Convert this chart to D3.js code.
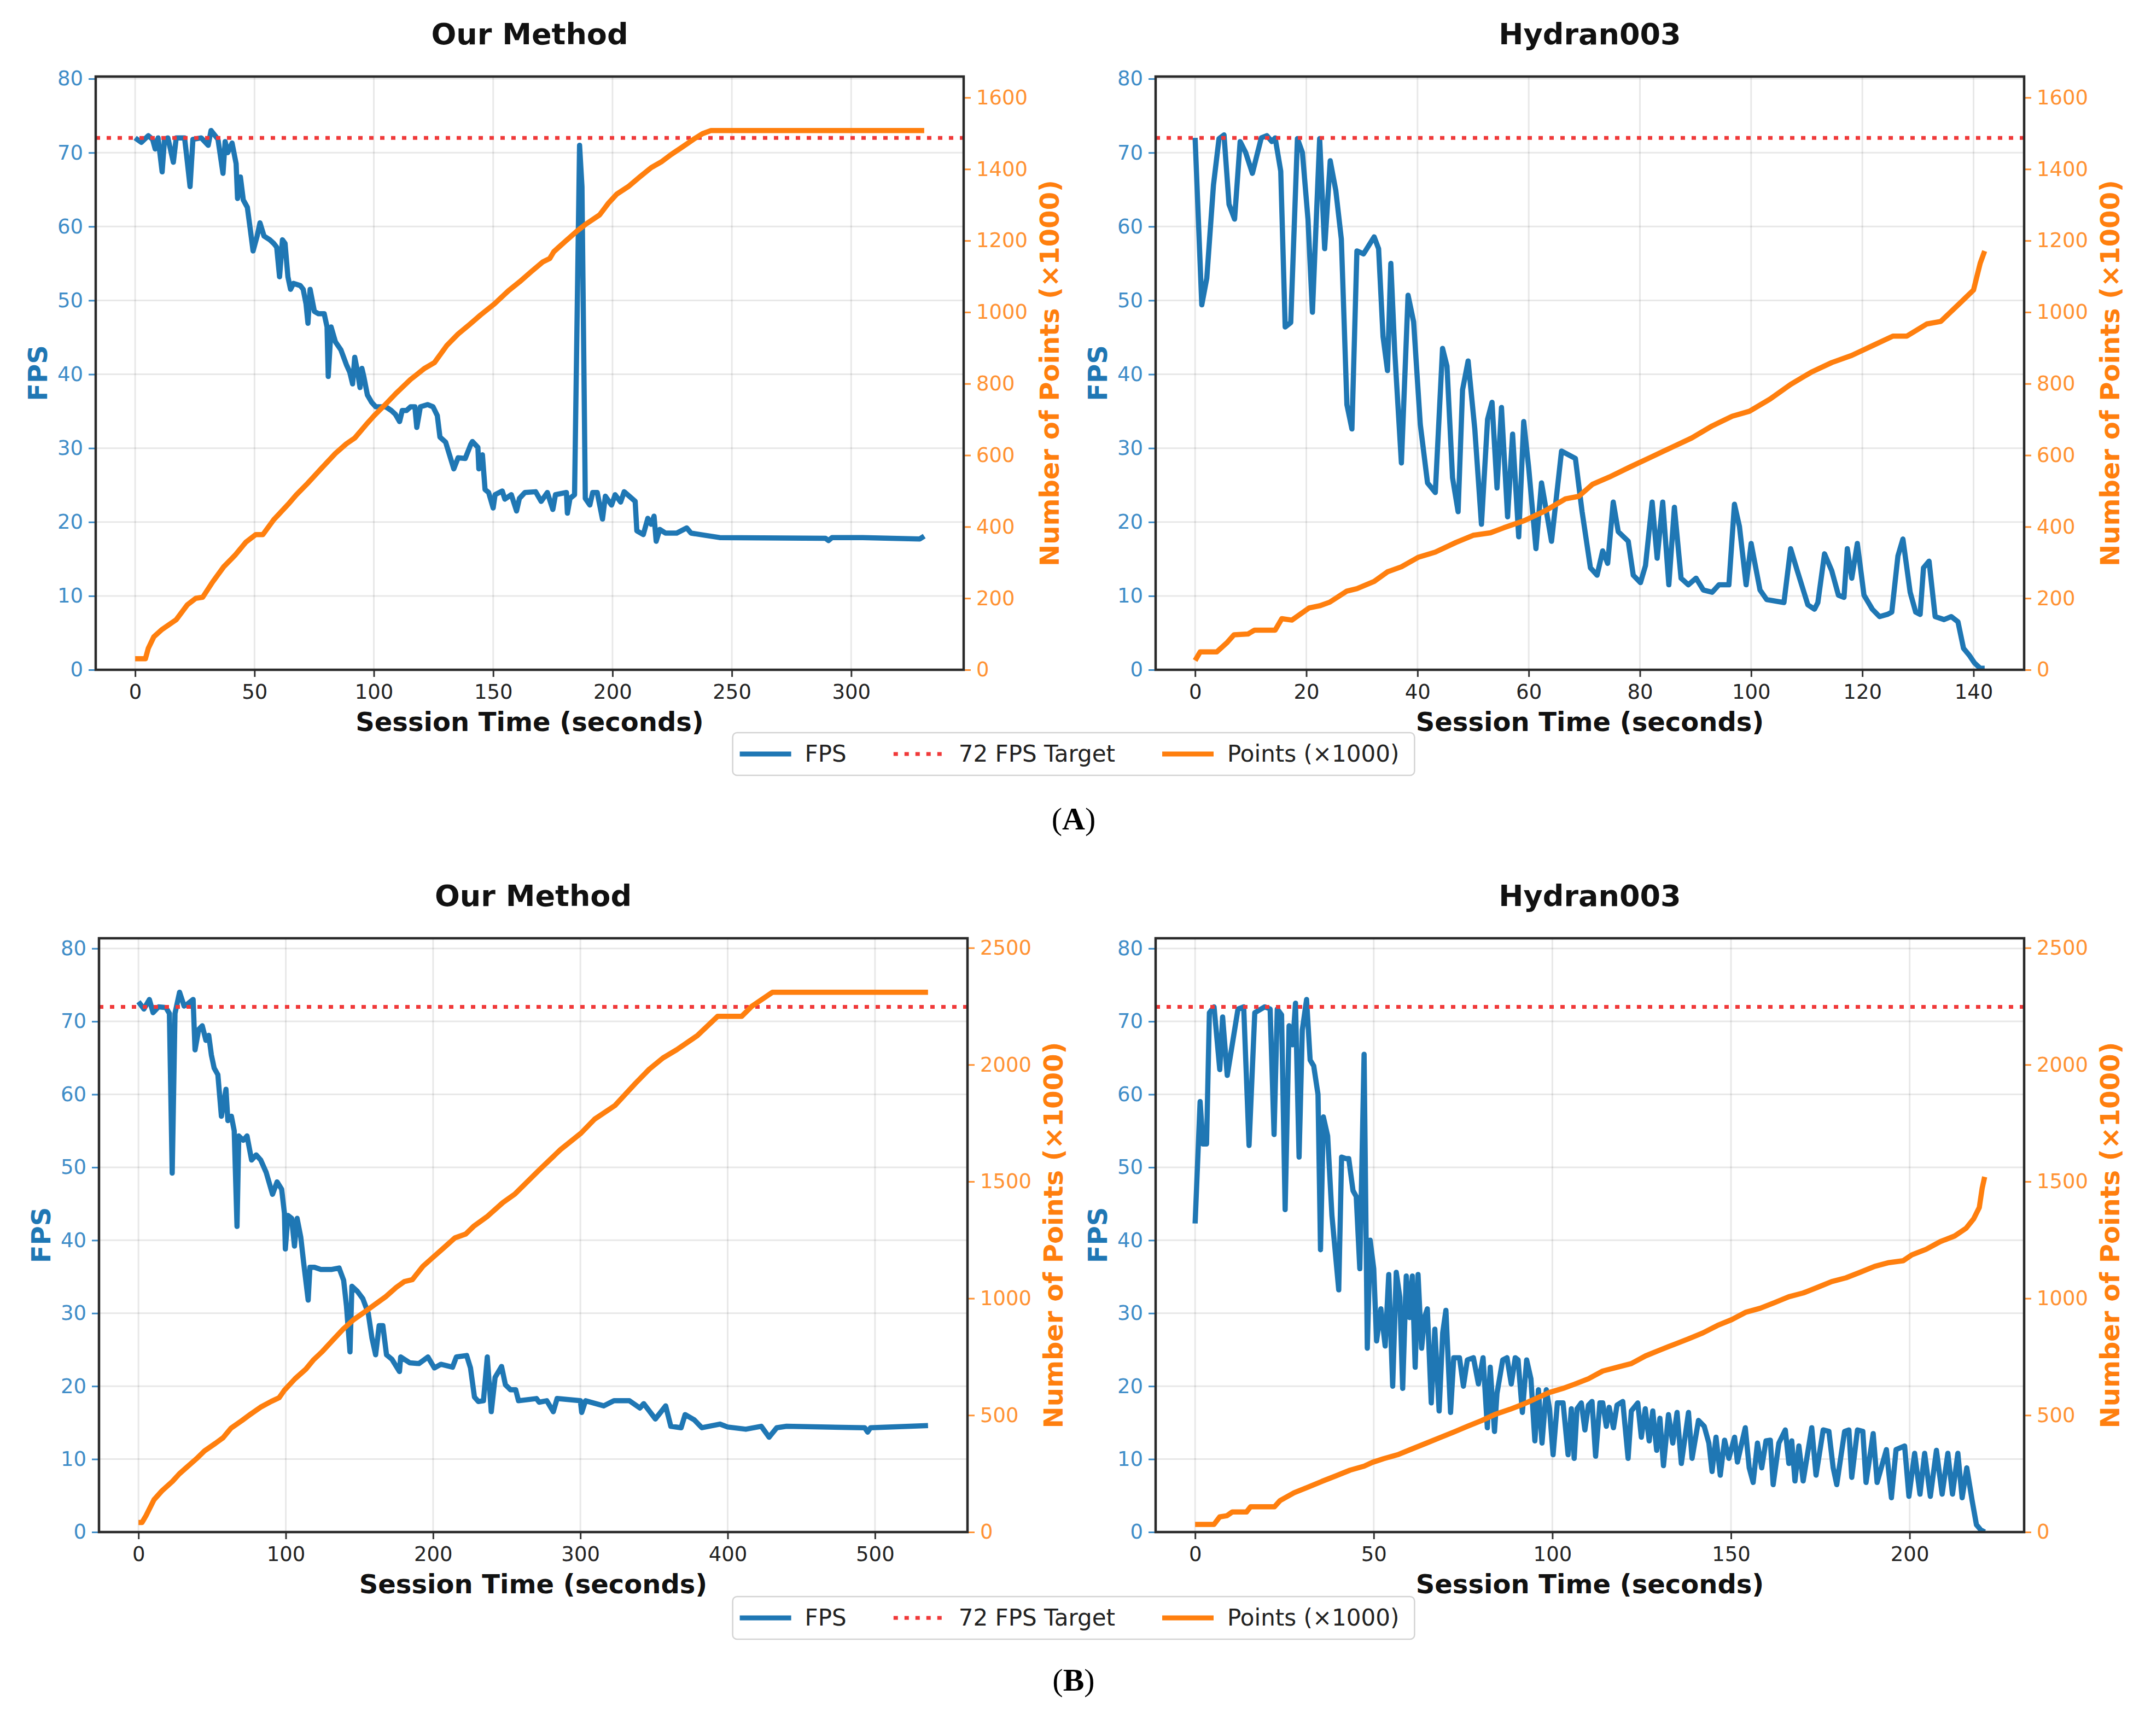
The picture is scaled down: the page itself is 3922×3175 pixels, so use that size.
<!DOCTYPE html>
<html><head><meta charset="utf-8">
<script src="https://cdnjs.cloudflare.com/ajax/libs/d3/7.8.5/d3.min.js"></script>
<style>body{margin:0;background:#fff}</style>
</head><body>
<script>
// ---------------- DATA (time in seconds, value) ----------------
const ourA_fps = [[0,72],[0.8,71.8],[2.6,71.4],[5.5,72.3],[7.3,71.8],[8.4,70.5],[9.6,72],[11.3,67.4],[12.3,71.8],[13.7,72],[16,68.7],[17.2,72],[20.7,72],[21.6,69.5],[23,65.4],[24.2,71.8],[27.7,72],[30.6,71],[31.8,73],[34.7,71.8],[36.8,67.2],[37.7,71.5],[38.8,70],[40.6,71.3],[42.3,68.5],[42.9,63.8],[44.1,66.7],[45.3,63.6],[47,62.6],[48.2,59.7],[49.4,56.7],[51.1,58.7],[52.3,60.5],[54,58.7],[56.4,58.2],[58.1,57.7],[59.3,57.2],[60.5,53.2],[61.7,58.2],[62.8,57.7],[64,53.2],[65.1,51.5],[66.3,52.3],[69.2,52],[70.4,51.5],[71.6,49.5],[72.4,46.9],[73.3,51.5],[75.1,48.5],[76.8,48.2],[79.2,48.2],[80.4,46.4],[80.9,39.7],[82.1,46.4],[83.9,44.4],[86.2,43.3],[88.5,41.3],[89.9,40.3],[91.1,38.7],[92,42.3],[93.2,40.3],[94.2,38.2],[95,40.8],[95.8,39.7],[97.3,37.2],[99.1,36.2],[100.8,35.6],[105,35.6],[107.3,35.1],[109,34.6],[110.8,33.6],[111.9,35.1],[113.7,35.1],[115.4,35.6],[117.2,35.6],[118,32.8],[119.5,35.6],[122.5,35.9],[124.8,35.6],[126.6,34.4],[127.7,31.5],[130.1,30.8],[131.8,29],[133.5,27.2],[135.3,28.7],[138.3,28.6],[140.6,30.5],[141.3,30.9],[143.6,30.1],[144,27.2],[145.5,29.1],[146.6,24.4],[148.1,24],[150,21.9],[150.8,23.7],[153.8,24.2],[154.9,23.1],[157.6,23.7],[159.8,21.5],[161,23.2],[163.3,24],[167.8,24.1],[170.1,22.8],[172.7,24],[175,21.7],[176.1,23.7],[180.7,24],[181.1,21.2],[182.2,23.2],[184.1,23.7],[186.2,71],[187.2,65.4],[188.6,23.2],[190.5,22.3],[191.7,24],[193.6,24],[195.8,20.4],[197,23.5],[199.6,22.3],[201.1,23.7],[203.4,22.7],[204.9,24.1],[209.5,22.8],[210.2,18.8],[212.9,18.3],[214.8,20.5],[216.2,19.7],[217.4,20.8],[218.3,17.4],[219.8,19],[222.2,18.5],[226.9,18.5],[231.1,19.2],[232.9,18.5],[238.9,18.2],[244.9,17.9],[289.2,17.8],[290.5,17.5],[292,17.9],[304.8,17.9],[328.7,17.7],[330.6,18.1]];
const ourA_pts = [[0,31],[4.3,31],[5.5,60],[7.8,92],[11.3,113],[17.2,140],[21.9,182],[25.4,200],[28.3,203],[32.4,245],[37.1,288],[41.8,320],[46.4,357],[50.5,378],[53.5,378],[58.1,420],[64,462],[67.5,489],[72.2,521],[78,563],[83.9,605],[88.5,632],[92,648],[96.7,685],[100.2,711],[105,743],[109.6,775],[115.4,812],[121.3,843],[125.4,859],[130.6,907],[135.3,939],[140,965],[144.7,992],[150.5,1023],[156.4,1060],[161.1,1085],[165.9,1113],[170.7,1140],[173.7,1150],[175.4,1169],[180.2,1198],[185,1226],[188.6,1245],[194.6,1272],[198.2,1304],[201.8,1330],[206.6,1351],[211.4,1378],[216.2,1404],[220.4,1420],[224.6,1441],[229.3,1462],[234.1,1484],[237.7,1499],[241.3,1508],[330.6,1508]];

const hydA_fps = [[0,72],[1.2,49.4],[2.1,53],[3.3,65.6],[4.3,71.9],[5.2,72.4],[6.1,63],[7.1,61],[8.1,71.5],[9.1,70],[10.3,67.2],[11.9,72],[12.9,72.3],[13.8,71.5],[14.4,72],[15.4,67.5],[16.2,46.4],[17.2,47],[18.4,71.9],[19.3,70],[20.3,61],[21.1,48.4],[22.4,71.9],[23.3,57],[24.3,68.9],[25.3,64.9],[26.3,58.3],[27.3,35.9],[28.2,32.6],[29.1,56.7],[30.3,56.3],[32.2,58.6],[33,57],[33.8,45.1],[34.6,40.5],[35.2,55],[35.9,43.1],[37.1,28],[38.3,50.7],[39.3,47.1],[40.5,33.2],[41.8,25.3],[43.2,24],[44.5,43.5],[45.3,41.1],[46.3,26],[47.3,21.4],[48.1,37.9],[49.1,41.8],[50.3,32.6],[51.5,19.7],[52.6,33.9],[53.4,36.2],[54.3,24.6],[55.1,35.5],[56.2,20.7],[57.1,31.9],[58.2,18],[59.1,33.6],[60,27.3],[61.3,16.4],[62.3,25.3],[64.1,17.4],[65.9,29.6],[68.4,28.6],[69.6,21.4],[71.1,13.8],[72.3,12.8],[73.3,16.1],[74.2,14.4],[75.2,22.7],[76.1,18.7],[77.9,17.4],[78.8,12.8],[80.1,11.8],[81,14.1],[82.2,22.7],[83.1,15.1],[84.1,22.7],[85.2,11.5],[86.2,22],[87.4,12.4],[88.7,11.5],[90.1,12.4],[91.4,10.8],[93,10.5],[94.2,11.5],[96,11.5],[97,22.4],[97.9,19.4],[99.1,11.5],[100,17.1],[101.6,10.8],[102.8,9.5],[105.9,9.1],[107.1,16.4],[108.3,13.4],[110.2,8.8],[111.4,8.2],[112,9.1],[113.2,15.7],[114.5,13.4],[115.7,10.1],[116.7,9.8],[117.3,16.4],[118.1,12.4],[119.1,17.1],[120.3,10.1],[121.8,8.2],[123.1,7.2],[124.5,7.5],[125.3,7.8],[126.4,15.4],[127.3,17.7],[128.6,10.5],[129.6,7.8],[130.4,7.5],[131,13.8],[132,14.7],[133.1,7.2],[134.7,6.8],[136,7.2],[137.2,6.5],[138.2,2.9],[139.3,1.9],[140.2,0.9],[141.2,0.2],[142,0.2]];
const hydA_pts = [[0,26],[0.9,50],[3.9,50],[5.8,77],[7,98],[9.5,100],[10.7,111],[14.4,111],[15.6,143],[17.4,139],[20.5,173],[22.4,179],[24.2,189],[27.3,220],[29.1,227],[32.2,247],[34.6,274],[37.1,288],[40.2,315],[43.2,329],[46.9,356],[50,376],[53.1,383],[55.5,397],[59.2,417],[62.9,444],[66.6,478],[69,485],[71.5,519],[74.5,539],[78.2,567],[81.9,594],[85.6,621],[89.3,648],[93,682],[96.6,709],[99.7,723],[103.4,757],[107.1,798],[110.8,832],[114.5,859],[118.1,879],[121.8,906],[125.5,933],[128,933],[131.6,967],[134.1,974],[137.8,1029],[140,1062],[141.2,1137],[142,1171]];

const ourB_fps = [[0,72.7],[3.7,71.7],[7.4,73],[9.9,71.2],[13.6,72],[18.6,71.9],[21,71.1],[22.9,49.2],[24.8,71.1],[27.9,74],[31,72.1],[33.4,72.4],[37.1,73],[38.4,66.1],[40.9,68.9],[43.3,69.4],[45.8,67.4],[47.7,68.1],[49.5,65.4],[51.4,63.6],[53.9,62.7],[56.3,57],[59.4,60.7],[60.7,56.4],[63.1,57],[65,55],[66.9,41.9],[68.1,54.3],[71.2,53.7],[73.7,54.3],[76.8,51],[79.9,51.7],[83,51],[86.7,49.3],[91,46.3],[94.1,48],[97.2,47],[99.1,43.7],[99.7,38.8],[101.5,43.4],[104,43],[105.9,39.2],[107.7,43],[110.2,40.4],[112.1,37],[115.2,31.8],[116.4,36.3],[119.5,36.3],[123.8,36],[131.3,36],[136.2,36.2],[139.3,34.5],[141.2,31],[143.6,24.7],[144.9,33.7],[148.6,33],[152.3,32],[156,30],[158.5,26.6],[161,24.3],[163.4,28.3],[165.9,28.3],[168.4,24.3],[172,23.7],[177.2,22],[178,24],[184.2,23.2],[190.4,23.1],[196.5,24],[200.9,22.5],[205.3,23],[213.2,22.6],[215.8,24],[222.8,24.2],[225.4,22.5],[228.1,18.5],[230.7,17.9],[234.2,18],[236.8,24],[239.5,16.5],[242.1,21.2],[246.5,22.7],[249.1,20.2],[252.6,19.5],[256.1,19.5],[258,18],[270.2,18.3],[272,17.8],[277.2,18],[281.6,16.5],[284.2,18.3],[300,18],[300.9,16.4],[303.5,18],[315.8,17.3],[322.8,18],[333.3,18],[340.4,17],[343,17.6],[350.9,15.5],[357.9,17.3],[361.4,14.5],[368.4,14.3],[371.1,16.1],[377.2,15.4],[382.5,14.3],[394.7,14.8],[400,14.4],[412.3,14.1],[422.8,14.5],[428.1,13],[433.3,14.3],[440,14.5],[493,14.3],[495,13.7],[497,14.3],[536,14.6]];
const ourB_pts = [[0,41],[2.4,41],[5.1,70],[10.5,138],[15.9,176],[23.1,217],[27.7,249],[32.2,274],[39.4,314],[44.8,347],[52.1,379],[57.5,404],[62.9,445],[70.2,477],[75.6,502],[82.8,534],[90.1,559],[95.5,575],[99.1,607],[106.3,656],[113.6,697],[119,738],[124.4,770],[131.6,819],[138.9,868],[146.1,909],[153.3,941],[160.6,974],[167.8,1007],[175,1047],[180.5,1072],[185.9,1080],[193.1,1137],[200.4,1178],[207.6,1218],[214.8,1259],[222.1,1275],[227.5,1308],[236.5,1349],[247.4,1410],[255.5,1446],[272.5,1552],[286.4,1636],[300.4,1707],[309.7,1767],[323.6,1826],[337.5,1921],[346.8,1981],[356.1,2029],[365.4,2064],[379.3,2124],[393.2,2207],[409.5,2207],[416.4,2250],[430.4,2310],[536,2310]];

const hydB_fps = [[0,42.3],[1.4,59],[2.2,53.2],[3.2,53.2],[4,71.2],[5.3,72],[6.9,63.4],[7.7,70.6],[9,62.6],[12,71.7],[13.6,72],[15.1,53],[16.7,71.2],[19.5,72],[21,71.7],[22.1,54.5],[23,71.7],[24.2,70.9],[25.2,44.2],[26.3,69.4],[27.3,66.8],[28.1,72.5],[29.1,51.4],[30,68.8],[31.2,73],[32.2,64.7],[33.2,63.9],[34.4,60],[35.1,38.7],[35.9,56.9],[37.1,54.3],[38.3,43.4],[40.2,33.2],[41,51.4],[42.2,51.2],[43,51.2],[44.2,46.8],[45.1,46],[46.1,36.1],[47.3,65.5],[48.2,25.2],[49,40],[50,36.1],[50.8,26.2],[52,30.6],[53.2,25.5],[54.2,35.3],[55.3,20],[56.3,35.6],[57.3,32.2],[58.1,19.7],[59.1,35.1],[60,29.4],[60.8,35.1],[61.6,22.6],[62.4,35.3],[63.4,25.2],[64.2,29.4],[65,30.6],[66.1,17.7],[67.1,27.8],[68.3,16.6],[69.3,27.3],[70.2,30.4],[71.5,16.4],[72.4,23.9],[74,23.9],[75.1,20],[76.2,23.6],[77.9,23.9],[79.3,20.3],[80.6,23.9],[81.8,14.3],[82.6,22.6],[83.8,13.8],[84.5,19],[86.1,23.6],[87.3,23.9],[88.5,20.3],[89.6,23.9],[90.4,23.6],[91.6,16.4],[92.8,23.6],[94,21],[95.1,12.5],[96.1,19.5],[97.1,12.2],[98.3,19.5],[99.2,16.9],[100.2,10.6],[101.4,17.7],[103,17.7],[104.4,10.6],[105.3,16.9],[106.1,10.1],[106.9,16.9],[108.1,17.7],[109.1,14],[110.1,17.4],[111.1,17.9],[112.1,10.4],[113.3,17.7],[114.1,17.7],[115.1,14.5],[115.9,17.1],[117.1,14.3],[118.1,17.4],[119.7,17.9],[121.2,10.1],[122.1,16.6],[123.9,17.7],[124.9,13],[126,16.9],[127.1,12.5],[128.1,16.6],[129.2,11.2],[130.1,15.6],[131.1,9.1],[132.5,16.1],[133.7,12.2],[134.9,16.4],[136.1,9.4],[138.1,16.4],[139.1,10.1],[140.9,15.3],[142.5,14.5],[143.8,12.2],[144.7,8.3],[145.8,13],[147,7.8],[148.2,12.6],[149.4,10.1],[151,13],[151.8,9.6],[154,14.3],[155.1,8.8],[156.2,6.8],[157.4,12.2],[158.6,8.8],[159.8,12.5],[161,12.6],[161.8,6.5],[163.4,12.2],[165.2,14],[166.2,9.4],[167,12.5],[167.9,7],[169,11.8],[170.2,7],[172.6,14.3],[173.8,7.8],[175.8,14],[177.4,13.8],[178.6,8.8],[179.6,6.5],[181.8,13.8],[183,14],[183.8,7.5],[185.4,14],[186.9,13.8],[187.8,6.8],[189.8,13.5],[190.9,6.8],[193.5,11.3],[194.9,4.7],[196.2,11.3],[198.6,11.8],[199.8,4.9],[201.4,10.8],[202.9,5.2],[204.2,10.8],[205.8,4.9],[207.5,11.2],[209.1,5.2],[210.7,10.8],[212,5.2],[213.5,10.8],[214.7,4.7],[216,8.8],[217.5,4.3],[218.7,1],[219.9,0.3],[221,0]];
const hydB_pts = [[0,33],[5.3,33],[6.9,65],[8.9,70],[10.4,86],[14.4,86],[15.5,108],[22.2,108],[23.8,135],[27.7,168],[31.6,192],[35.5,217],[39.5,241],[43.4,265],[47.3,282],[49.6,298],[52.8,314],[56.7,331],[60.6,355],[64.5,379],[68.5,404],[72.4,428],[76.3,453],[80.2,477],[84.2,505],[88.1,525],[92,548],[95.9,575],[99.1,597],[103,615],[106.1,632],[110.1,656],[114.1,689],[118.1,705],[122.1,721],[126.1,754],[130.1,779],[134.1,803],[138.1,827],[142.1,852],[146.2,884],[150.2,909],[154.2,941],[158.2,958],[162.2,982],[166.2,1007],[170.2,1023],[174.2,1047],[178.2,1072],[182.2,1088],[186.2,1112],[190.2,1137],[194.2,1153],[198.2,1161],[200.6,1186],[204.6,1210],[208.6,1243],[212.6,1267],[215.8,1300],[217.9,1340],[219.5,1389],[220.3,1471],[221,1520]];

const targetFPS = 72;
const titles = ["Our Method", "Hydran003"];
const xTicksOurA = [0,50,100,150,200,250,300];
const xTicksHydA = [0,20,40,60,80,100,120,140];
const xTicksOurB = [0,100,200,300,400,500];
const xTicksHydB = [0,50,100,150,200];
const fpsTicks = [0,10,20,30,40,50,60,70,80];
const ptsTicksA = [0,200,400,600,800,1000,1200,1400,1600];
const ptsTicksB = [0,500,1000,1500,2000,2500];
const legendLabels = ["FPS", "72 FPS Target", "Points (\u00d71000)"];
const rowLabels = ["A", "B"];

// ---------------- STYLE / LAYOUT ----------------
const W = 3922, H = 3175;
const BLUE = "#1f77b4", ORANGE = "#ff7f0e", RED = "#f03a3a";
const BLUE_T = "#3f8dc8", ORANGE_T = "#ff9233";
const FONT = "DejaVu Sans";

const svg = d3.select("body").append("svg").attr("width", W).attr("height", H)
  .attr("viewBox", `0 0 ${W} ${H}`).style("background", "#fff");
svg.append("rect").attr("width", W).attr("height", H).attr("fill", "#fff");

const rows = [
  { panels: [
      { title: titles[0], fps: ourA_fps, pts: ourA_pts, xticks: xTicksOurA, box: {x0:175, x1:1762, y0:140, y1:1225} },
      { title: titles[1], fps: hydA_fps, pts: hydA_pts, xticks: xTicksHydA, box: {x0:2113, x1:3701, y0:140, y1:1225} } ],
    ptsTicks: ptsTicksA, legendY: 1379, label: rowLabels[0], labelY: 1517 },
  { panels: [
      { title: titles[0], fps: ourB_fps, pts: ourB_pts, xticks: xTicksOurB, box: {x0:181, x1:1769, y0:1716, y1:2802} },
      { title: titles[1], fps: hydB_fps, pts: hydB_pts, xticks: xTicksHydB, box: {x0:2113, x1:3701, y0:1716, y1:2802} } ],
    ptsTicks: ptsTicksB, legendY: 2959, label: rowLabels[1], labelY: 3092 }
];

let clipId = 0;
function drawPanel(p, fpsMax, ptsMax, ptsTicks) {
  const {x0, x1, y0, y1} = p.box;
  const tMax = Math.max(d3.max(p.fps, d => d[0]), d3.max(p.pts, d => d[0]));
  const x = d3.scaleLinear().domain([-0.05 * tMax, 1.05 * tMax]).range([x0, x1]);
  const yL = d3.scaleLinear().domain([0, fpsMax]).range([y1, y0]);
  const yR = d3.scaleLinear().domain([0, ptsMax]).range([y1, y0]);
  const g = svg.append("g");
  const id = "clip" + (clipId++);
  g.append("clipPath").attr("id", id).append("rect")
    .attr("x", x0).attr("y", y0).attr("width", x1 - x0).attr("height", y1 - y0);

  // grid
  const grid = g.append("g").attr("stroke", "#000").attr("stroke-opacity", 0.09).attr("stroke-width", 3);
  p.xticks.forEach(t => grid.append("line").attr("x1", x(t)).attr("x2", x(t)).attr("y1", y0).attr("y2", y1));
  fpsTicks.forEach(v => grid.append("line").attr("x1", x0).attr("x2", x1).attr("y1", yL(v)).attr("y2", yL(v)));

  const plot = g.append("g").attr("clip-path", `url(#${id})`);
  plot.append("path").datum(p.fps)
    .attr("d", d3.line().x(d => x(d[0])).y(d => yL(d[1])))
    .attr("fill", "none").attr("stroke", BLUE).attr("stroke-width", 9.5).attr("stroke-linejoin", "round");
  plot.append("line").attr("x1", x0).attr("x2", x1).attr("y1", yL(targetFPS)).attr("y2", yL(targetFPS))
    .attr("stroke", RED).attr("stroke-width", 7).attr("stroke-dasharray", "8,12");
  plot.append("path").datum(p.pts)
    .attr("d", d3.line().x(d => x(d[0])).y(d => yR(d[1])))
    .attr("fill", "none").attr("stroke", ORANGE).attr("stroke-width", 9.5).attr("stroke-linejoin", "round");

  // axes
  const ax = g.append("g").attr("transform", `translate(0,${y1})`)
    .call(d3.axisBottom(x).tickValues(p.xticks).tickSize(13).tickPadding(14).tickFormat(d3.format("d")));
  ax.select(".domain").remove();
  ax.selectAll("line").attr("stroke", "#333").attr("stroke-width", 3);
  ax.selectAll("text").attr("fill", "#222").attr("font-size", 37).attr("font-family", FONT);

  const al = g.append("g").attr("transform", `translate(${x0},0)`)
    .call(d3.axisLeft(yL).tickValues(fpsTicks).tickSize(13).tickPadding(10).tickFormat(d3.format("d")));
  al.select(".domain").remove();
  al.selectAll("line").attr("stroke", BLUE_T).attr("stroke-width", 3);
  al.selectAll("text").attr("fill", BLUE_T).attr("font-size", 37).attr("font-family", FONT);

  const ar = g.append("g").attr("transform", `translate(${x1},0)`)
    .call(d3.axisRight(yR).tickValues(ptsTicks).tickSize(13).tickPadding(10).tickFormat(d3.format("d")));
  ar.select(".domain").remove();
  ar.selectAll("line").attr("stroke", ORANGE_T).attr("stroke-width", 3);
  ar.selectAll("text").attr("fill", ORANGE_T).attr("font-size", 37).attr("font-family", FONT);

  // spines
  g.append("rect").attr("x", x0).attr("y", y0).attr("width", x1 - x0).attr("height", y1 - y0)
    .attr("fill", "none").attr("stroke", "#2a2a2a").attr("stroke-width", 4.5);

  // labels
  const cx = (x0 + x1) / 2, cy = (y0 + y1) / 2;
  g.append("text").attr("x", cx).attr("y", y0 - 59).attr("text-anchor", "middle")
    .attr("font-family", FONT).attr("font-weight", "bold").attr("font-size", 54).attr("fill", "#111").text(p.title);
  g.append("text").attr("x", cx).attr("y", y1 + 112).attr("text-anchor", "middle")
    .attr("font-family", FONT).attr("font-weight", "bold").attr("font-size", 48).attr("fill", "#111").text("Session Time (seconds)");
  g.append("text").attr("transform", `translate(${x0 - 106},${cy}) rotate(-90)`).attr("dy", "0.36em")
    .attr("text-anchor", "middle").attr("font-family", FONT).attr("font-weight", "bold").attr("font-size", 48)
    .attr("fill", BLUE).text("FPS");
  g.append("text").attr("transform", `translate(${x1 + 157},${cy}) rotate(-90)`).attr("dy", "0.36em")
    .attr("text-anchor", "middle").attr("font-family", FONT).attr("font-weight", "bold").attr("font-size", 48)
    .attr("fill", ORANGE).text("Number of Points (\u00d71000)");
}

function drawLegend(cy) {
  const g = svg.append("g");
  const fs = 42, padL = 13, hl = 94, gapT = 25, colSp = 86, padR = 28;
  const styles = [
    {stroke: BLUE, w: 9, dash: null},
    {stroke: RED, w: 7, dash: "8,12"},
    {stroke: ORANGE, w: 9, dash: null}];
  const box = g.append("rect");
  const texts = legendLabels.map(l => g.append("text").attr("font-family", FONT).attr("font-size", fs)
    .attr("fill", "#222").text(l));
  const widths = texts.map(t => t.node().getComputedTextLength());
  const total = padL + 3 * (hl + gapT) + d3.sum(widths) + 2 * colSp + padR;
  let xx = 1963 - total / 2;
  const left = xx;
  xx += padL;
  legendLabels.forEach((l, i) => {
    const s = styles[i];
    const ln = g.append("line").attr("x1", xx).attr("x2", xx + hl).attr("y1", cy).attr("y2", cy)
      .attr("stroke", s.stroke).attr("stroke-width", s.w);
    if (s.dash) ln.attr("stroke-dasharray", s.dash);
    texts[i].attr("x", xx + hl + gapT).attr("y", cy + 14);
    xx += hl + gapT + widths[i] + colSp;
  });
  box.attr("x", left).attr("y", cy - 39).attr("width", total).attr("height", 78).attr("rx", 8)
    .attr("fill", "#fff").attr("fill-opacity", 0.8).attr("stroke", "#d4d4d4").attr("stroke-width", 2.5);
}

rows.forEach(r => {
  const fpsMax = 1.1 * d3.max(r.panels, p => d3.max(p.fps, d => d[1]));
  const ptsMax = 1.1 * d3.max(r.panels, p => d3.max(p.pts, d => d[1]));
  r.panels.forEach(p => drawPanel(p, fpsMax, ptsMax, r.ptsTicks));
  drawLegend(r.legendY);
  const t = svg.append("text").attr("x", 1963).attr("y", r.labelY).attr("text-anchor", "middle")
    .attr("font-family", "Liberation Serif").attr("font-size", 58).attr("fill", "#000");
  t.append("tspan").text("(");
  t.append("tspan").attr("font-weight", "bold").text(r.label);
  t.append("tspan").text(")");
});
</script>
</body></html>
